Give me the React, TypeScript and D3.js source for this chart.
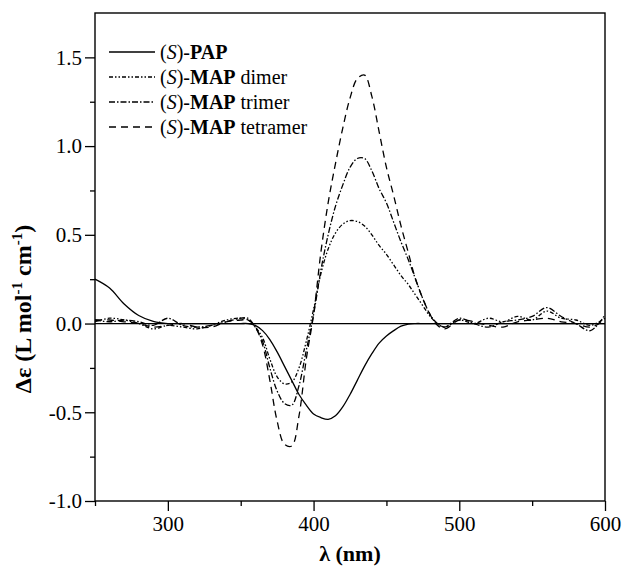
import React, { useEffect, useRef } from 'react';
import * as d3 from 'd3';

// wavelength grid (nm)
const wavelengths = [
  250, 260, 270, 280, 290, 300, 310, 320, 330, 340, 350,
  355, 360, 365, 370, 375, 380, 385, 390, 395, 400, 405, 410, 415, 420,
  425, 430, 435, 440, 445, 450, 455, 460, 465, 470, 475, 480, 485, 490,
  500, 510, 520, 530, 540, 550, 560, 570, 580, 590, 600,
];

const pap = [
  0.25, 0.2, 0.11, 0.045, 0.012, 0.0, 0.0, 0.0, 0.0, 0.0, 0.0,
  0.0, -0.01, -0.04, -0.09, -0.16, -0.24, -0.32, -0.4, -0.46, -0.51, -0.53, -0.54, -0.52, -0.47,
  -0.4, -0.32, -0.24, -0.17, -0.11, -0.07, -0.04, -0.015, -0.003, 0.0, 0.0, 0.0, 0.0, 0.0,
  0.0, 0.0, 0.0, 0.0, 0.0, 0.0, 0.0, 0.0, 0.0, 0.0, 0.0,
];

const dimer = [
  0.01, 0.03, 0.02, 0.0, -0.03, -0.01, -0.02, -0.03, -0.01, 0.02, 0.03,
  0.02, -0.02, -0.08, -0.2, -0.3, -0.34, -0.33, -0.25, -0.1, 0.08, 0.28, 0.42, 0.51, 0.56,
  0.58, 0.575, 0.55, 0.5, 0.44, 0.39, 0.33, 0.27, 0.22, 0.16, 0.1, 0.04, 0.0, -0.02,
  0.02, 0.0, 0.03, 0.01, 0.04, 0.02, 0.07, 0.03, 0.02, -0.01, 0.03,
];

const trimer = [
  0.02, 0.01, 0.02, 0.01, -0.01, 0.03, -0.01, -0.02, -0.01, 0.01, 0.03,
  0.03, -0.02, -0.1, -0.25, -0.38, -0.45, -0.46, -0.35, -0.15, 0.05, 0.3, 0.5, 0.66, 0.78,
  0.88, 0.93, 0.93, 0.86, 0.76, 0.68, 0.57, 0.46, 0.36, 0.25, 0.14, 0.05, 0.0, -0.02,
  0.03, 0.0, -0.02, 0.01, 0.02, 0.04, 0.09, 0.04, 0.0, -0.04, 0.05,
];

const tetramer = [
  0.02, 0.02, 0.01, 0.0, -0.02, -0.01, 0.0, -0.02, -0.02, 0.01, 0.02,
  0.02, -0.02, -0.12, -0.32, -0.55, -0.68, -0.69, -0.52, -0.2, 0.05, 0.4, 0.68, 0.9, 1.1,
  1.27, 1.38, 1.4, 1.28, 1.08, 0.88, 0.72, 0.55, 0.4, 0.25, 0.14, 0.05, -0.01, -0.03,
  0.02, 0.01, -0.01, -0.02, 0.01, 0.02, 0.03, 0.01, 0.0, -0.02, 0.02,
];

const seriesNames = ['PAP', 'MAP dimer', 'MAP trimer', 'MAP tetramer'];
const seriesValues = [pap, dimer, trimer, tetramer];
const dashes = ['none', '4,2,1.5,2,1.5,2', '6,2,1.5,2', '7,5'];

const yMajor = [-1.0, -0.5, 0.0, 0.5, 1.0, 1.5];
const yMinor = [-0.75, -0.25, 0.25, 0.75, 1.25];
const xMajor = [300, 400, 500, 600];
const xMinor = [250, 350, 450, 550];

const App = () => {
  const svgRef = useRef<SVGSVGElement>(null);

  useEffect(() => {
    const W = 624;
    const H = 566;
    const left = 95;
    const right = 605;
    const top = 13;
    const bottom = 501;
    const font = '"Liberation Serif", "Times New Roman", serif';

    const svg = d3
      .select(svgRef.current)
      .attr('width', W)
      .attr('height', H)
      .style('font-family', font);
    svg.selectAll('*').remove();

    const x = d3.scaleLinear().domain([250, 600]).range([left, right]);
    const y = d3.scaleLinear().domain([-1.0, 1.75]).range([bottom, top]);

    // zero line
    svg
      .append('line')
      .attr('x1', left)
      .attr('x2', right)
      .attr('y1', y(0))
      .attr('y2', y(0))
      .attr('stroke', '#000')
      .attr('stroke-width', 1.2);

    const line = d3
      .line<number>()
      .x((d, i) => x(wavelengths[i]))
      .y(d => y(d))
      .curve(d3.curveCatmullRom.alpha(0.5));

    seriesValues.forEach((vals, i) => {
      svg
        .append('path')
        .datum(vals)
        .attr('d', line)
        .attr('fill', 'none')
        .attr('stroke', '#000')
        .attr('stroke-width', 1.3)
        .attr('stroke-dasharray', dashes[i]);
    });

    // frame
    svg
      .append('rect')
      .attr('x', left)
      .attr('y', top)
      .attr('width', right - left)
      .attr('height', bottom - top)
      .attr('fill', 'none')
      .attr('stroke', '#000')
      .attr('stroke-width', 1.4);

    // axes
    const yAxis = svg
      .append('g')
      .attr('transform', `translate(${left},0)`)
      .call(
        d3
          .axisLeft(y)
          .tickValues(yMajor)
          .tickSize(10)
          .tickPadding(3)
          .tickFormat(d => (+d).toFixed(1))
      );
    svg
      .append('g')
      .attr('transform', `translate(${left},0)`)
      .call(d3.axisLeft(y).tickValues(yMinor).tickSize(5).tickFormat(() => ''));

    const xAxis = svg
      .append('g')
      .attr('transform', `translate(0,${bottom})`)
      .call(
        d3
          .axisBottom(x)
          .tickValues(xMajor)
          .tickSize(10)
          .tickPadding(5)
          .tickFormat(d => String(d))
      );
    svg
      .append('g')
      .attr('transform', `translate(0,${bottom})`)
      .call(d3.axisBottom(x).tickValues(xMinor).tickSize(5).tickFormat(() => ''));

    svg.selectAll('.domain').remove();
    svg.selectAll('.tick line').attr('stroke', '#000').attr('stroke-width', 1.3);
    [yAxis, xAxis].forEach(g => {
      g.attr('font-family', null);
      g.selectAll('text')
        .style('font-family', font)
        .attr('font-size', 21)
        .attr('fill', '#000');
    });

    // axis titles
    svg
      .append('text')
      .attr('x', (left + right) / 2)
      .attr('y', 561)
      .attr('text-anchor', 'middle')
      .style('font-family', font)
      .attr('font-size', 22)
      .attr('font-weight', 'bold')
      .text('λ (nm)');

    const yt = svg
      .append('text')
      .attr('transform', 'translate(31,309) rotate(-90)')
      .attr('text-anchor', 'middle')
      .style('font-family', font)
      .attr('font-size', 24)
      .attr('font-weight', 'bold');
    yt.append('tspan').text('Δε (L mol');
    yt.append('tspan').attr('font-size', 15).attr('dy', -9).text('-1');
    yt.append('tspan').attr('dy', 9).text(' cm');
    yt.append('tspan').attr('font-size', 15).attr('dy', -9).text('-1');
    yt.append('tspan').attr('dy', 9).text(')');

    // legend
    const lg = svg.append('g');
    seriesNames.forEach((name, i) => {
      const cy = 52 + i * 25;
      lg.append('line')
        .attr('x1', 109)
        .attr('x2', 155)
        .attr('y1', cy)
        .attr('y2', cy)
        .attr('stroke', '#000')
        .attr('stroke-width', 1.3)
        .attr('stroke-dasharray', dashes[i]);
      const t = lg
        .append('text')
        .attr('x', 160)
        .attr('y', cy + 7)
        .style('font-family', font)
        .attr('font-size', 20);
      const [bold, ...rest] = name.split(' ');
      t.append('tspan').text('(');
      t.append('tspan').attr('font-style', 'italic').text('S');
      t.append('tspan').text(')-');
      t.append('tspan').attr('font-weight', 'bold').text(bold);
      if (rest.length) t.append('tspan').text(' ' + rest.join(' '));
    });
  }, []);

  return <svg ref={svgRef} style={{ position: 'absolute', left: 0, top: 0 }}></svg>;
};

export default App;
